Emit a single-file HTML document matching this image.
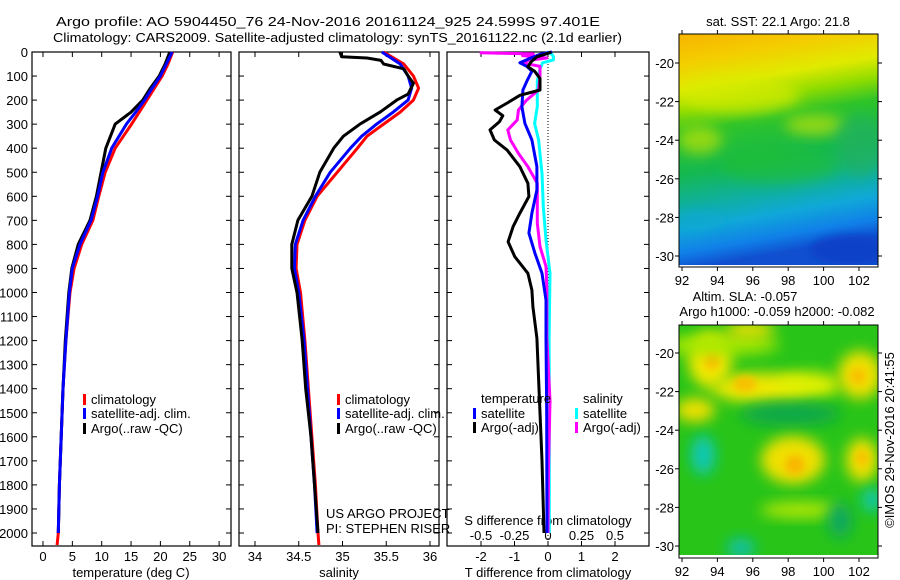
<!DOCTYPE html>
<html><head><meta charset="utf-8"><style>
html,body{margin:0;padding:0;background:#fff;}
svg{display:block;font-family:"Liberation Sans",sans-serif;}
text{font-size:13px;fill:#000;}
</style></head><body>
<svg id="fig" width="900" height="580" viewBox="0 0 900 580" xmlns="http://www.w3.org/2000/svg">
<defs>
<linearGradient id="sstg" x1="0" y1="0" x2="0.15" y2="1">
<stop offset="0" stop-color="#f8b400"/><stop offset="0.12" stop-color="#f4cc00"/>
<stop offset="0.24" stop-color="#e0ea00"/><stop offset="0.33" stop-color="#90dc00"/>
<stop offset="0.42" stop-color="#30c428"/><stop offset="0.6" stop-color="#14b850"/>
<stop offset="0.72" stop-color="#10b098"/><stop offset="0.83" stop-color="#10a8d8"/>
<stop offset="0.93" stop-color="#1080e8"/><stop offset="1" stop-color="#1050d0"/>
</linearGradient>
<filter id="blur8" x="-50%" y="-50%" width="200%" height="200%"><feGaussianBlur stdDeviation="7"/></filter>
<filter id="blur4" x="-50%" y="-50%" width="200%" height="200%"><feGaussianBlur stdDeviation="4"/></filter>
<clipPath id="m1c"><rect x="679" y="34" width="199" height="231"/></clipPath>
<clipPath id="m2c"><rect x="679" y="325" width="199" height="230"/></clipPath>
</defs>

<text x="56" y="26" textLength="544" lengthAdjust="spacingAndGlyphs">Argo profile: AO 5904450_76 24-Nov-2016 20161124_925 24.599S 97.401E</text>
<text x="53" y="42" textLength="569" lengthAdjust="spacingAndGlyphs">Climatology: CARS2009. Satellite-adjusted climatology: synTS_20161122.nc (2.1d earlier)</text>

<g id="p1"></g>
<g id="p2"></g>
<g id="p3"></g>

<g>
<text x="778" y="26" text-anchor="middle">sat. SST: 22.1 Argo: 21.8</text>
<g clip-path="url(#m1c)">
<rect x="679" y="34" width="199" height="231" fill="url(#sstg)"/>
<ellipse cx="740" cy="95" rx="60" ry="18" fill="#d8ec00" opacity="0.7" filter="url(#blur8)"/>
<ellipse cx="700" cy="140" rx="22" ry="14" fill="#d8e800" opacity="0.6" filter="url(#blur8)"/>
<ellipse cx="815" cy="125" rx="30" ry="10" fill="#e0e800" opacity="0.6" filter="url(#blur8)"/>
<ellipse cx="860" cy="145" rx="25" ry="30" fill="#20b060" opacity="0.7" filter="url(#blur8)"/>
<ellipse cx="780" cy="165" rx="60" ry="18" fill="#20c030" opacity="0.6" filter="url(#blur8)"/>
<ellipse cx="850" cy="250" rx="40" ry="15" fill="#1040c8" opacity="0.9" filter="url(#blur4)"/>
<ellipse cx="700" cy="220" rx="25" ry="10" fill="#10a8d0" opacity="0.6" filter="url(#blur4)"/>
</g>
<rect x="679" y="34" width="199" height="233" fill="none" stroke="#000"/>
<g id="m1ax"></g>
</g>

<g>
<text x="745" y="301" text-anchor="middle">Altim. SLA: -0.057</text>
<text x="777" y="316" text-anchor="middle">Argo h1000: -0.059 h2000: -0.082</text>
<g clip-path="url(#m2c)">
<rect x="679" y="325" width="199" height="230" fill="#28c418"/>
<ellipse cx="710" cy="360" rx="22" ry="28" fill="#f0e800" filter="url(#blur8)"/>
<ellipse cx="712" cy="360" rx="8" ry="10" fill="#f8c000" filter="url(#blur4)"/>
<ellipse cx="760" cy="388" rx="48" ry="15" fill="#f0e800" filter="url(#blur8)"/>
<ellipse cx="745" cy="384" rx="12" ry="8" fill="#f8c000" filter="url(#blur4)"/>
<ellipse cx="808" cy="385" rx="32" ry="13" fill="#e0f000" filter="url(#blur8)"/>
<ellipse cx="860" cy="375" rx="22" ry="24" fill="#f0e000" filter="url(#blur8)"/>
<ellipse cx="858" cy="376" rx="8" ry="8" fill="#f8c000" filter="url(#blur4)"/>
<ellipse cx="695" cy="410" rx="20" ry="12" fill="#f0e000" filter="url(#blur8)"/>
<ellipse cx="720" cy="345" rx="60" ry="10" fill="#a8e800" filter="url(#blur8)"/>
<ellipse cx="790" cy="414" rx="50" ry="12" fill="#10a848" filter="url(#blur8)"/>
<ellipse cx="750" cy="330" rx="25" ry="8" fill="#f0e000" filter="url(#blur8)"/>
<ellipse cx="793" cy="460" rx="32" ry="24" fill="#f0e000" filter="url(#blur8)"/>
<ellipse cx="795" cy="465" rx="10" ry="10" fill="#f8b800" filter="url(#blur4)"/>
<ellipse cx="862" cy="460" rx="16" ry="22" fill="#f0e000" filter="url(#blur8)"/>
<ellipse cx="862" cy="458" rx="6" ry="8" fill="#f8c000" filter="url(#blur4)"/>
<ellipse cx="703" cy="455" rx="12" ry="20" fill="#10c8b8" filter="url(#blur8)"/>
<ellipse cx="872" cy="500" rx="10" ry="12" fill="#10c8b0" filter="url(#blur8)"/>
<ellipse cx="741" cy="548" rx="14" ry="10" fill="#10c0a8" filter="url(#blur8)"/>
<ellipse cx="800" cy="510" rx="40" ry="8" fill="#d8f000" opacity="0.8" filter="url(#blur8)"/>
<ellipse cx="840" cy="520" rx="12" ry="18" fill="#10a860" filter="url(#blur8)"/>
</g>
<rect x="679" y="325" width="199" height="233" fill="none" stroke="#000"/>
<g id="m2ax"></g>
</g>
<text transform="translate(894,440) rotate(-90)" text-anchor="middle">©IMOS 29-Nov-2016 20:41:55</text>
</svg>
<script>
// ---------- data ----------
const depthTicks = [0,100,200,300,400,500,600,700,800,900,1000,1100,1200,1300,1400,1500,1600,1700,1800,1900,2000];
const tempTicks = [0,5,10,15,20,25,30];
const salTicks = [34,34.5,35,35.5,36];
const salTickLabels = ["34","34.5","35","35.5","36"];
const dTTicks = [-2,-1,0,1,2];
const dSTicks = [-0.5,-0.25,0,0.25,0.5];
const dSTickLabels = ["-0.5","-0.25","0","0.25","0.5"];

const tDepth = [0,50,100,150,200,250,300,400,500,600,700,800,900,1000,1200,1400,1600,1800,2000,2050];
const tempClim = [22.1,21.3,20.3,19.0,17.7,16.4,15.1,12.3,10.6,9.5,8.5,6.6,5.3,4.6,3.9,3.4,3.1,2.8,2.6,2.4];
const tempSat  = [22.0,21.0,20.0,18.6,17.3,15.8,14.2,11.7,10.2,9.3,8.2,6.3,5.0,4.5,3.9,3.4,3.1,2.8,2.6];
const tempArgo = [21.6,20.8,19.8,18.3,17.0,15.0,12.3,10.7,9.9,9.1,8.0,6.0,4.9,4.4,3.8,3.4,3.1,2.8,2.6];

const sDepth = [0,50,100,150,200,250,300,350,400,500,600,700,800,900,1000,1200,1400,1600,1800,2000,2050];
const salClim = [35.47,35.70,35.81,35.87,35.81,35.66,35.47,35.28,35.17,34.94,34.71,34.57,34.48,34.47,34.52,34.57,34.61,34.65,34.69,34.72,34.73];
const salSat  = [35.45,35.66,35.75,35.79,35.75,35.58,35.39,35.22,35.09,34.86,34.69,34.55,34.46,34.45,34.50,34.56,34.60,34.64,34.68,34.71];
const saDepth = [0,20,25,35,50,70,100,130,175,200,250,300,350,400,500,600,700,800,900,1000,1200,1400,1600,1800,2000];
const salArgo = [34.97,34.99,35.28,35.44,35.47,35.70,35.75,35.81,35.75,35.62,35.43,35.20,35.01,34.90,34.74,34.65,34.49,34.42,34.42,34.48,34.54,34.58,34.64,34.68,34.72];

const dDepthA = [0,10,20,40,61,80,110,158,180,210,241,265,290,324,366,408,477,546,601,670,725,789,851,920,990,1059,1190,1500,1700,2000];
const dTArgo  = [0.1,-0.1,-0.33,-0.5,-0.6,-0.4,-0.24,-0.24,-0.84,-1.19,-1.58,-1.35,-1.45,-1.73,-1.6,-1.22,-0.84,-0.6,-0.57,-0.84,-1.04,-1.19,-0.99,-0.6,-0.48,-0.45,-0.33,-0.24,-0.18,-0.12];
const dDepthS = [0,10,30,45,60,80,121,158,228,297,366,477,574,670,753,836,920,1031,1190,1500,2000];
const dTSat   = [0.12,-0.24,-0.6,-0.84,-0.63,-0.48,-0.63,-0.75,-0.78,-0.69,-0.48,-0.33,-0.33,-0.48,-0.57,-0.39,-0.18,-0.06,-0.06,-0.04,-0.03];
const dDepthM = [3,8,15,25,35,45,60,100,158,200,241,283,324,366,422,477,546,615,712,809,892,990,1190,1450,1700,2000];
const dSArgo  = [-0.51,-0.11,-0.19,-0.01,-0.15,-0.19,-0.06,-0.06,-0.07,-0.16,-0.22,-0.23,-0.30,-0.28,-0.22,-0.15,-0.08,-0.08,-0.08,-0.06,-0.015,-0.008,-0.008,0.015,0.005,0.0];
const dDepthC = [0,10,20,33,45,70,121,228,297,366,505,643,782,920,1190,1500,2000];
const dSSat   = [-0.01,0.03,0.04,0.04,-0.04,-0.06,-0.08,-0.08,-0.1,-0.07,-0.045,-0.035,-0.015,0.015,0.008,0.01,0.01];

const latTicks = [-20,-22,-24,-26,-28,-30];
const lonTicks = [92,94,96,98,100,102];

// ---------- scales ----------
const Y0 = 52, YB = 546;
const yD = d => Y0 + d * 0.2405;
const xT = t => 43 + t * 5.87;
const xS = s => 255 + (s - 34) * 87.5;
const xDT = t => 548 + t * 33.5;
const xDS = s => 548 + s * 134;
const NS = "http://www.w3.org/2000/svg";

function mk(tag, parent, attrs) {
  const e = document.createElementNS(NS, tag);
  for (const k in attrs) e.setAttribute(k, attrs[k]);
  parent.appendChild(e);
  return e;
}
function series(parent, depths, vals, xf, color, w, name) {
  const n = Math.min(depths.length, vals.length);
  let d = "";
  for (let i = 0; i < n; i++) d += (i ? "L" : "M") + xf(vals[i]).toFixed(1) + "," + yD(depths[i]).toFixed(1);
  const p = mk("path", parent, {d: d, fill: "none", stroke: color, "stroke-width": w, "stroke-linejoin": "round"});
  
  
  return p;
}
function txt(parent, x, y, s, anchor, name) {
  const t = mk("text", parent, {x: x, y: y, "text-anchor": anchor || "start"});
  t.textContent = s;
  
  
  return t;
}
function frame(parent, x0, x1, name) {
  const r = mk("rect", parent, {x: x0, y: Y0, width: x1 - x0, height: YB - Y0, fill: "none", stroke: "#000", "stroke-width": 1.2});
  
  
  depthTicks.forEach(d => {
    const y = yD(d);
    const t1 = mk("line", parent, {x1: x0, x2: x0 + 5, y1: y, y2: y, stroke: "#000"});
    
    
    const t2 = mk("line", parent, {x1: x1 - 5, x2: x1, y1: y, y2: y, stroke: "#000"});
    
    
  });
}
function xticks(parent, vals, labels, xf, yLab, name) {
  vals.forEach((v, i) => {
    const x = xf(v);
    const a = mk("line", parent, {x1: x, x2: x, y1: YB - 5, y2: YB, stroke: "#000"});
    
    
    const b = mk("line", parent, {x1: x, x2: x, y1: Y0, y2: Y0 + 5, stroke: "#000"});
    
    
    if (yLab) txt(parent, x, yLab, labels[i], "middle", name);
  });
}
function legendEntry(parent, x, y, color, label) {
  const r = mk("rect", parent, {x: x, y: y - 10, width: 3, height: 11, fill: color});
  
  
  txt(parent, x + 8, y, label, "start", "legend-entry");
}

// ---------- panel 1 ----------
const p1 = document.getElementById("p1");
frame(p1, 32, 231, "temperature-frame");
depthTicks.forEach(d => txt(p1, 28, yD(d) + 5, String(d), "end", "depth-tick-label"));
xticks(p1, tempTicks, tempTicks.map(String), xT, 561, "temperature-tick-label");
txt(p1, 131, 577, "temperature (deg C)", "middle", "x-axis-title-temperature");
series(p1, tDepth, tempClim, xT, "#f00", 3, "temperature-climatology-line");
series(p1, tDepth, tempArgo, xT, "#000", 3, "temperature-argo-line");
series(p1, tDepth, tempSat, xT, "#00f", 3, "temperature-satellite-line");
legendEntry(p1, 83, 404, "#f00", "climatology");
legendEntry(p1, 83, 418, "#00f", "satellite-adj. clim.");
legendEntry(p1, 83, 433, "#000", "Argo(..raw -QC)");

// ---------- panel 2 ----------
const p2 = document.getElementById("p2");
frame(p2, 239, 439, "salinity-frame");
xticks(p2, salTicks, salTickLabels, xS, 561, "salinity-tick-label");
txt(p2, 339, 577, "salinity", "middle", "x-axis-title-salinity");
series(p2, sDepth, salClim, xS, "#f00", 3, "salinity-climatology-line");
series(p2, sDepth, salSat, xS, "#00f", 3, "salinity-satellite-line");
series(p2, saDepth, salArgo, xS, "#000", 3, "salinity-argo-line");
legendEntry(p2, 337, 404, "#f00", "climatology");
legendEntry(p2, 337, 418, "#00f", "satellite-adj. clim.");
legendEntry(p2, 337, 433, "#000", "Argo(..raw -QC)");
txt(p2, 326, 518, "US ARGO PROJECT", "start", "project-label");
txt(p2, 326, 533, "PI: STEPHEN RISER", "start", "pi-label");

// ---------- panel 3 ----------
const p3 = document.getElementById("p3");
frame(p3, 447, 649, "difference-frame");
xticks(p3, dTTicks, dTTicks.map(String), xDT, 561, "t-diff-tick-label");
dSTicks.forEach((v, i) => txt(p3, xDS(v), 540, dSTickLabels[i], "middle", "s-diff-tick-label"));
txt(p3, 548, 525, "S difference from climatology", "middle", "s-diff-axis-title");
txt(p3, 548, 577, "T difference from climatology", "middle", "t-diff-axis-title");
const zl = mk("line", p3, {x1: xDT(0), x2: xDT(0), y1: Y0, y2: YB, stroke: "#000", "stroke-dasharray": "1,2"});


series(p3, dDepthC, dSSat, xDS, "#0ff", 3, "salinity-satellite-diff-line");
series(p3, dDepthM, dSArgo, xDS, "#f0f", 3, "salinity-argo-diff-line");
series(p3, dDepthS, dTSat, xDT, "#00f", 3, "temperature-satellite-diff-line");
series(p3, dDepthA, dTArgo, xDT, "#000", 3, "temperature-argo-diff-line");
txt(p3, 481, 403, "temperature", "start", "legend-title-temperature");
legendEntry(p3, 473, 418, "#00f", "satellite");
legendEntry(p3, 473, 432, "#000", "Argo(-adj)");
txt(p3, 583, 403, "salinity", "start", "legend-title-salinity");
legendEntry(p3, 575, 418, "#0ff", "satellite");
legendEntry(p3, 575, 432, "#f0f", "Argo(-adj)");

// ---------- map axes ----------
function mapAxes(gid, latY, lonYLab, top, bottom, pfx) {
  const g = document.getElementById(gid);
  latTicks.forEach(la => {
    const y = latY(la);
    const a = mk("line", g, {x1: 675, x2: 679, y1: y, y2: y, stroke: "#000"});
    
    
    const b = mk("line", g, {x1: 878, x2: 882, y1: y, y2: y, stroke: "#000"});
    
    
    txt(g, 674, y + 5, String(la), "end", pfx + "-lat-label");
  });
  lonTicks.forEach(lo => {
    const x = 682 + (lo - 92) * 17.7;
    const a = mk("line", g, {x1: x, x2: x, y1: bottom, y2: bottom + 4, stroke: "#000"});
    
    
    const b = mk("line", g, {x1: x, x2: x, y1: top - 4, y2: top, stroke: "#000"});
    
    
    txt(g, x, lonYLab, String(lo), "middle", pfx + "-lon-label");
  });
}
mapAxes("m1ax", la => 63 + (-20 - la) * 19.3, 285, 34, 267, "sst");
mapAxes("m2ax", la => 353 + (-20 - la) * 19.3, 576, 325, 558, "sla");
</script>
</body></html>
